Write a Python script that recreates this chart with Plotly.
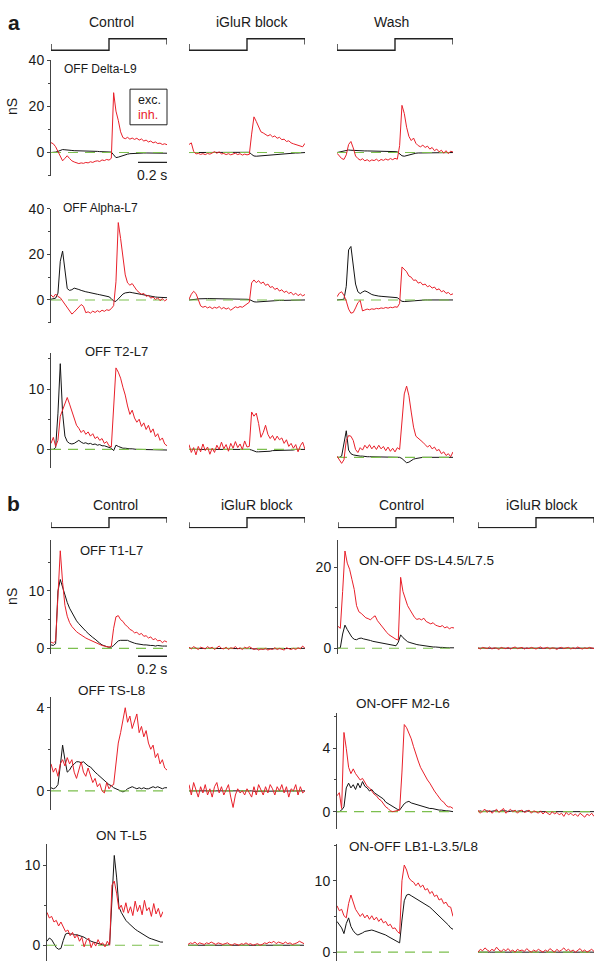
import numpy as np
import plotly.graph_objects as go

W, H = 603, 972
FONT = "Liberation Sans, Arial, Helvetica, sans-serif"
RED = "#e8202a"
BLACK = "#141414"
GREEN = "#7cbf4e"
AXC = "#444444"

# sample times (s) of every trace (1 sample / 16 ms, 0.8 s sweep, light step at 0.4 s)
T = np.round(np.arange(51) * 0.016, 3)

# light stimulus trace (OFF -> ON step)
STIM_T = [0.0, 0.0, 0.4, 0.4, 0.8, 0.8]
STIM_LEVEL = [0.55, 0.0, 0.0, 1.0, 1.0, 0.5]
SCALE_T = [0.6, 0.8]          # 0.2 s scale bar
SCALE_Y = [0.0, 0.0]
ZERO_T = [0.0, 0.8]           # baseline (0 nS)
ZERO_Y = [0.0, 0.0]

# ---------------- panel a ----------------
A1_CTRL_EXC = [0, 0, 0.2, 0.5, 1.0, 1.3, 1.2, 1.0, 0.9, 0.9,
               0.8, 0.8, 0.7, 0.7, 0.7, 0.6, 0.6, 0.6, 0.5, 0.5,
               0.5, 0.4, 0.4, 0.4, 0.3, 0.3, 0.2, -1.0, -2.2, -2.0,
               -1.6, -1.2, -0.9, -0.7, -0.5, -0.4, -0.3, -0.3, -0.2, -0.2,
               -0.2, -0.2, -0.2, -0.2, -0.3, -0.3, -0.3, -0.3, -0.3, -0.3, -0.3]
A1_CTRL_INH = [4.3, 3.8, 2.5, 0.5, -2.0, -3.6, -2.5, -1.4, -2.6, -3.6,
               -4.1, -4.6, -4.8, -4.5, -4.7, -4.3, -4.5, -4.0, -4.3, -3.8,
               -3.6, -3.9, -3.2, -3.5, -3.0, -3.3, -2.5, 26.0, 18.0, 14.0,
               9.0, 6.5, 6.0, 6.6, 5.8, 6.3, 5.7, 6.2, 5.4, 5.9,
               5.0, 5.4, 4.6, 5.0, 4.2, 4.6, 3.9, 4.1, 3.5, 3.8, 3.4]
A1_BLK_EXC = [0, 0, 0.1, 0.2, 0.2, 0.2, 0.2, 0.2, 0.2, 0.2,
              0.2, 0.2, 0.2, 0.2, 0.2, 0.2, 0.2, 0.2, 0.2, 0.2,
              0.2, 0.2, 0.2, 0.2, 0.2, 0.2, 0.1, -0.8, -1.5, -1.6,
              -1.5, -1.4, -1.3, -1.2, -1.1, -1.0, -0.9, -0.8, -0.7, -0.7,
              -0.6, -0.5, -0.5, -0.4, -0.3, -0.3, -0.2, -0.2, -0.1, -0.1, 0]
A1_BLK_INH = [3.5, 4.2, 0.5, -0.6, -0.4, -0.8, -0.5, -0.9, -0.4, -0.7,
              -0.2, 0.4, -0.3, 0.3, -0.6, -0.4, -0.9, -0.5, -1.0, -0.6,
              -0.3, -0.9, -0.5, -1.1, -0.7, -1.0, -0.8, 8.0, 15.5, 13.5,
              11.0, 9.0, 8.5, 8.0, 7.2, 7.8, 6.8, 7.2, 6.2, 6.6,
              5.6, 5.8, 4.8, 5.1, 4.2, 3.8, 3.4, 3.0, 2.7, 2.5, 4.0]
A1_WASH_EXC = [0, 0.2, 0.5, 0.8, 1.0, 1.1, 1.0, 0.9, 0.9, 0.8,
               0.8, 0.8, 0.7, 0.7, 0.7, 0.7, 0.6, 0.6, 0.6, 0.5,
               0.5, 0.5, 0.5, 0.4, 0.4, 0.4, 0.3, -0.5, -1.4, -1.6,
               -1.3, -0.9, -0.6, -0.4, -0.3, -0.2, -0.2, -0.1, -0.1, -0.1,
               0, 0, 0, 0, 0, 0, 0, 0, 0, 0, 0]
A1_WASH_INH = [-0.3, -1.5, -2.6, -3.0, -1.0, 3.5, 4.8, 2.0, -1.5, -2.6,
               -3.3, -2.7, -3.6, -3.1, -3.8, -3.2, -3.5, -2.9, -3.7, -3.0,
               -3.4, -2.8, -3.3, -2.6, -3.1, -2.5, -2.9, 3.0, 20.5, 17.0,
               11.0, 7.0, 5.2, 6.3, 4.0, 3.0, 2.5, 3.2, 2.2, 2.8,
               1.5, 2.2, 0.8, 1.5, 0.3, 1.0, -0.3, 0.8, -0.5, 0.6, 0.2]

A2_CTRL_EXC = [0.3, 0.5, 0.8, 3.0, 17.0, 21.5, 12.0, 5.0, 4.2, 4.5,
               5.2, 5.0, 4.6, 4.2, 3.8, 3.6, 3.4, 3.1, 2.9, 2.7,
               2.5, 2.3, 2.1, 1.9, 1.7, 1.4, 0.6, -0.5, -0.6, 0.6,
               1.8, 2.6, 3.1, 3.4, 3.4, 3.2, 3.0, 2.7, 2.5, 2.2,
               2.0, 1.8, 1.6, 1.5, 1.4, 1.3, 1.2, 1.1, 1.1, 1.0, 1.0]
A2_CTRL_INH = [2.2, 1.2, 2.6, 1.5, 1.0, -0.5, -1.8, -3.0, -4.8, -6.2,
               -5.3, -4.2, -3.3, -2.0, -2.8, -5.6, -5.2, -5.8, -4.9, -5.5,
               -4.7, -5.3, -4.5, -5.0, -4.3, -4.6, -3.8, -2.5, 8.0, 34.0,
               27.0, 18.0, 11.0, 7.5, 6.5, 7.2, 5.5, 4.2, 3.3, 2.5,
               2.9, 1.6, 2.0, 0.8, 1.3, 0.2, 0.9, -0.3, 0.6, -0.4, 0.3]
A2_BLK_EXC = [0, 0, 0.1, 0.3, 0.5, 0.6, 0.6, 0.6, 0.6, 0.6,
              0.6, 0.6, 0.5, 0.5, 0.5, 0.5, 0.5, 0.5, 0.5, 0.4,
              0.4, 0.4, 0.4, 0.4, 0.3, 0.3, 0.2, -0.4, -0.8, -0.9,
              -0.8, -0.7, -0.6, -0.5, -0.5, -0.4, -0.4, -0.3, -0.3, -0.2,
              -0.2, -0.2, -0.1, -0.1, -0.1, 0, 0, 0, 0, 0, 0]
A2_BLK_INH = [0.3, 2.5, 3.8, 2.8, 0.2, -2.6, -3.2, -2.8, -3.5, -3.0,
              -3.8, -3.2, -3.6, -2.9, -3.9, -3.3, -4.0, -3.5, -4.5, -3.7,
              -3.0, -3.4, -2.9, -3.2, -2.4, -1.5, -1.0, 7.5, 8.8, 7.6,
              8.5, 7.2, 7.9, 6.4, 7.0, 5.5, 5.9, 4.6, 5.2, 3.9,
              4.5, 3.3, 3.9, 2.8, 3.4, 2.2, 3.0, 1.9, 2.6, 1.8, 2.4]
A2_WASH_EXC = [0, 0, 0.1, 0.3, 6.0, 22.0, 23.5, 15.0, 7.0, 3.6,
               2.8, 3.5, 4.0, 3.6, 2.9, 2.4, 2.1, 1.8, 1.7, 1.6,
               1.5, 1.4, 1.4, 1.3, 1.3, 1.2, 1.0, 0.2, -0.6, -0.7,
               -0.6, -0.4, -0.3, -0.2, -0.1, 0, 0, 0, 0, 0,
               0, 0, 0, 0, 0, 0, 0, 0, 0, 0, 0]
A2_WASH_INH = [1.4, 3.0, 3.6, 2.0, -0.5, -4.0, -5.8, -5.5, -3.5, -1.2,
               -0.2, -4.8, -4.4, -4.0, -4.3, -3.9, -4.1, -3.7, -3.9, -3.5,
               -3.7, -3.3, -3.6, -3.2, -3.4, -3.0, -3.2, -1.5, 14.5, 13.2,
               12.4, 10.5, 10.0, 8.6, 8.8, 7.4, 7.8, 6.6, 7.0, 5.8,
               6.3, 5.2, 5.7, 4.4, 4.9, 3.6, 4.1, 2.9, 3.3, 2.3, 2.7]

A3_CTRL_EXC = [0, 0, 0.3, 6.0, 14.2, 6.0, 2.2, 1.3, 1.0, 0.9,
               1.0, 1.3, 1.5, 1.2, 1.0, 1.1, 0.9, 1.0, 0.8, 0.9,
               0.7, 0.8, 0.6, 0.6, 0.5, 0.4, 0.2, -0.2, 0.7, 0.5,
               0.3, 0.2, 0.2, 0.1, 0.1, 0.1, 0.0, 0.0, 0.0, 0.0,
               0.0, 0.0, 0.0, 0.0, -0.1, -0.1, -0.1, -0.1, -0.1, -0.1, -0.1]
A3_CTRL_INH = [1.0, 2.0, 0.5, 1.5, 5.5, 6.5, 7.8, 8.6, 7.5, 6.3,
               5.0, 4.0, 3.5, 2.8, 3.2, 2.5, 2.9, 2.2, 2.6, 1.8,
               2.1, 1.5, 1.8, 1.0, 1.3, 0.6, 0.4, 8.0, 13.5, 12.8,
               11.8, 10.3, 9.0, 7.2, 5.8, 6.5, 5.2, 4.5, 5.0, 3.8,
               4.4, 3.3, 4.0, 2.8, 3.4, 2.1, 2.6, 1.5, 1.9, 0.9, 0.6]
A3_BLK_EXC = [0.0, 0.0, 0.0, 0.05, 0.0, 0.0, 0.05, 0.0, 0.0, 0.0,
              0.05, 0.0, 0.0, 0.0, 0.05, 0.0, 0.0, 0.0, 0.0, 0.05,
              0.0, 0.0, 0.0, 0.0, 0.0, 0.0, 0.0, -0.1, -0.3, -0.4,
              -0.4, -0.4, -0.3, -0.3, -0.3, -0.3, -0.2, -0.2, -0.2, -0.2,
              -0.2, -0.1, -0.1, -0.1, -0.1, -0.1, 0.0, 0.0, 0.0, 0.0, 0.0]
A3_BLK_INH = [0.8, -0.5, 0.3, -0.9, 0.5, -0.4, 0.9, -0.2, 0.4, -0.8,
              0.2, -0.5, 0.7, 0.0, 1.2, 0.1, 0.8, -0.3, 1.0, 0.2,
              1.3, 0.3, 0.9, 0.0, 1.4, 0.4, 0.5, 6.2, 5.5, 6.0,
              4.3, 2.0, 2.8, 4.0, 2.5, 1.8, 2.3, 1.5, 2.2, 1.6,
              1.9, 1.0, 1.6, 0.5, 1.0, 0.2, 0.8, -0.4, 0.6, 1.2, 0.0]
A3_WASH_EXC = [0, 0, 0.2, 2.5, 4.4, 1.2, 0.6, 0.4, 0.3, 0.3,
               0.2, 0.2, 0.1, 0.1, 0.1, 0.1, 0.1, 0.1, 0.0, 0.0,
               0.0, 0.0, 0.0, 0.0, 0.0, 0.0, 0.0, 0.0, -0.2, -0.6,
               -0.9, -0.8, -0.5, -0.3, -0.2, -0.1, 0.0, 0.0, 0.0, 0.0,
               0.0, 0.0, 0.0, 0.0, 0.0, 0.0, 0.0, 0.0, 0.0, 0.0, 0.0]
A3_WASH_INH = [0.2, -0.5, -1.0, -0.4, 2.8, 3.6, 3.5, 2.8, 1.3, 0.8,
               1.6, 1.2, 2.0, 1.5, 2.1, 1.4, 1.9, 1.3, 2.0, 1.4,
               1.8, 1.1, 1.7, 1.0, 1.5, 0.9, 1.6, 1.3, 6.0, 10.5,
               11.8, 10.2, 7.5, 5.0, 3.5, 3.2, 2.8, 2.5, 2.1, 1.7,
               2.0, 1.4, 1.7, 1.1, 1.3, 0.6, 0.9, 0.3, 0.6, 0.1, 0.9]

# ---------------- panel b ----------------
B1L_CTRL_EXC = [0.6, 0.5, 0.8, 10.0, 12.0, 10.5, 9.2, 8.0, 7.0, 6.2,
                5.5, 4.8, 4.3, 3.8, 3.3, 3.0, 2.6, 2.2, 1.9, 1.6,
                1.2, 0.9, 0.6, 0.4, 0.3, 0.2, 0.2, 0.5, 1.0, 1.3,
                1.4, 1.4, 1.3, 1.4, 1.2, 1.0, 0.9, 0.8, 0.7, 0.7,
                0.6, 0.6, 0.5, 0.5, 0.5, 0.4, 0.5, 0.4, 0.4, 0.4, 0.4]
B1L_CTRL_INH = [1.1, 0.9, 1.3, 9.0, 17.0, 11.5, 7.5, 5.6, 4.5, 3.8,
                3.3, 2.9, 2.6, 2.3, 2.1, 1.8, 1.6, 1.4, 1.2, 1.0,
                0.8, 0.6, 0.5, 0.4, 0.3, 0.2, 0.4, 3.5, 5.5, 5.7,
                5.0, 4.7, 4.1, 3.8, 3.3, 3.1, 2.7, 2.8, 2.4, 2.6,
                2.1, 2.2, 1.8, 2.0, 1.5, 1.7, 1.3, 1.4, 1.0, 1.3, 1.1]
B1L_BLK_EXC = [0.0, 0.0, 0.05, 0.0, 0.0, 0.05, 0.0, 0.0, 0.0, 0.05,
               0.0, 0.0, 0.0, 0.0, 0.05, 0.0, 0.0, 0.0, 0.0, 0.0,
               0.05, 0.0, 0.0, 0.0, 0.0, 0.0, 0.0, -0.05, -0.1, -0.1,
               -0.1, -0.1, -0.1, -0.1, -0.05, -0.05, -0.05, -0.05, -0.05, 0.0,
               0.0, 0.0, 0.0, 0.0, 0.0, 0.0, 0.0, 0.0, 0.0, 0.0, 0.0]
B1L_BLK_INH = [0.2, -0.1, 0.3, 0.0, -0.2, 0.2, 0.1, -0.1, 0.3, 0.0,
               0.2, -0.2, 0.1, 0.4, 0.0, -0.1, 0.2, -0.2, 0.1, 0.0,
               0.3, -0.1, 0.1, -0.2, 0.2, 0.0, 0.3, 0.1, -0.2, 0.0,
               -0.3, -0.1, -0.2, 0.0, -0.3, -0.1, -0.2, 0.1, -0.2, 0.0,
               -0.1, -0.3, 0.1, -0.1, -0.2, 0.0, -0.2, 0.1, -0.1, 0.4, 0.0]
B1R_CTRL_EXC = [0.0, 0.1, 3.5, 5.7, 4.6, 3.6, 2.7, 2.2, 2.1, 2.4,
                2.5, 2.3, 2.2, 2.0, 1.9, 1.7, 1.6, 1.5, 1.4, 1.3,
                1.2, 1.0, 0.9, 0.8, 0.7, 0.6, 1.5, 3.3, 2.6, 2.0,
                1.6, 1.4, 1.2, 1.0, 0.9, 0.8, 0.7, 0.6, 0.5, 0.4,
                0.4, 0.3, 0.3, 0.2, 0.2, 0.2, 0.1, 0.1, 0.1, 0.1, 0.1]
B1R_CTRL_INH = [5.4, 4.9, 14.0, 24.0, 21.0, 19.5, 17.0, 14.5, 10.5, 9.0,
                8.6, 8.0, 7.5, 7.3, 7.0, 7.6, 8.0, 6.8, 6.0, 5.2,
                4.6, 3.9, 3.3, 2.9, 2.5, 2.2, 2.0, 17.5, 14.0, 12.0,
                10.5, 9.5, 8.4, 7.6, 7.1, 7.3, 7.0, 7.4, 6.6, 6.3,
                6.0, 6.3, 5.7, 5.5, 5.3, 5.6, 5.0, 5.3, 4.8, 5.1, 5.0]
B1R_BLK_EXC = [0.0, 0.0, 0.0, 0.05, 0.0, 0.0, 0.0, 0.0, 0.05, 0.0,
               0.0, 0.0, 0.0, 0.0, 0.0, 0.05, 0.0, 0.0, 0.0, 0.0,
               0.0, 0.0, 0.0, 0.05, 0.0, 0.0, 0.0, 0.0, -0.05, -0.05,
               -0.05, -0.05, -0.05, 0.0, 0.0, 0.0, 0.0, 0.0, 0.0, 0.0,
               0.0, 0.0, 0.0, 0.0, 0.0, 0.0, 0.0, 0.0, 0.0, 0.0, 0.0]
B1R_BLK_INH = [0.1, -0.2, 0.2, 0.0, -0.1, 0.3, -0.2, 0.1, 0.0, -0.3,
               0.2, 0.0, -0.1, 0.2, -0.2, 0.1, 0.3, -0.1, 0.0, 0.2,
               -0.2, 0.1, -0.1, 0.2, 0.0, -0.2, 0.1, 0.3, -0.1, 0.0,
               0.2, -0.2, 0.1, 0.0, -0.3, 0.1, 0.2, -0.1, 0.0, 0.2,
               -0.2, 0.1, -0.1, 0.3, 0.0, -0.2, 0.1, -0.1, 0.2, 0.0, -0.1]

B2L_CTRL_EXC = [0.15, 0.1, 0.15, 0.3, 1.2, 2.2, 1.5, 0.9, 1.0, 1.2,
                1.3, 1.4, 1.4, 1.35, 1.4, 1.3, 1.2, 1.15, 1.0, 0.9,
                0.8, 0.7, 0.6, 0.5, 0.4, 0.3, 0.25, 0.15, 0.1, 0.05,
                0.0, -0.05, 0.0, 0.1, 0.15, 0.2, 0.15, 0.1, 0.15, 0.1,
                0.15, 0.1, 0.1, 0.15, 0.2, 0.15, 0.2, 0.15, 0.1, 0.15, 0.15]
B2L_CTRL_INH = [1.3, 0.9, 1.1, 0.7, 1.3, 1.5, 1.2, 1.6, 1.3, 1.5,
                0.9, 0.6, 1.0, 1.4, 0.9, 0.7, 1.1, 0.8, 0.4, 0.6,
                0.2, 0.35, 0.0, -0.1, 0.4, 0.1, 0.25, 0.3, 1.4, 2.3,
                2.8, 3.5, 4.0, 3.3, 3.6, 3.0, 3.4, 3.7, 2.8, 3.1,
                2.6, 2.9, 2.3, 2.0, 2.2, 1.6, 1.8, 1.3, 1.5, 1.1, 1.0]
B2L_BLK_EXC = [0.0, 0.0, 0.02, 0.0, 0.0, 0.0, 0.02, 0.0, 0.0, 0.0,
               0.0, 0.02, 0.0, 0.0, 0.0, 0.0, 0.02, 0.0, 0.0, 0.0,
               0.0, 0.0, 0.02, 0.0, 0.0, 0.0, 0.0, 0.0, -0.02, -0.02,
               -0.02, -0.02, 0.0, 0.0, 0.0, 0.0, 0.0, 0.0, 0.0, 0.0,
               0.0, 0.0, 0.0, 0.0, 0.0, 0.0, 0.0, 0.0, 0.0, 0.0, 0.0]
B2L_BLK_INH = [0.3, -0.2, 0.4, 0.0, -0.3, 0.2, -0.1, 0.3, -0.2, 0.1,
               -0.3, 0.2, 0.4, -0.1, 0.2, -0.2, 0.1, 0.3, -0.3, -0.8,
               -0.2, 0.1, -0.1, 0.0, -0.2, 0.1, -0.1, -0.3, 0.2, -0.2,
               0.3, 0.0, -0.2, 0.2, -0.1, 0.3, 0.1, -0.2, 0.2, 0.0,
               0.3, -0.1, 0.2, -0.3, 0.1, 0.0, 0.3, -0.2, 0.2, -0.1, 0.0]
B2R_CTRL_EXC = [0.0, 0.0, 0.1, 0.3, 1.5, 1.8, 1.5, 1.7, 1.4, 1.8,
                1.5, 1.9, 1.6, 1.5, 1.3, 1.4, 1.2, 1.1, 1.0, 0.9,
                0.8, 0.6, 0.5, 0.4, 0.3, 0.2, 0.15, 0.1, 0.3, 0.5,
                0.6, 0.65, 0.55, 0.5, 0.45, 0.4, 0.35, 0.3, 0.3, 0.25,
                0.2, 0.2, 0.15, 0.1, 0.1, 0.1, 0.05, 0.05, 0.05, 0.0, 0.0]
B2R_CTRL_INH = [1.0, 1.2, 0.2, 5.0, 4.0, 2.8, 2.4, 2.7, 2.4, 2.2,
                2.0, 2.1, 1.8, 1.6, 1.5, 1.3, 1.1, 1.0, 0.8, 0.7,
                0.5, 0.3, 0.2, 0.05, 0.0, 0.05, 0.1, 0.1, 2.5, 5.5,
                5.3, 5.0, 4.6, 4.1, 3.6, 3.2, 2.8, 2.5, 2.2, 2.0,
                1.8, 1.5, 1.3, 1.1, 0.9, 0.7, 0.6, 0.4, 0.3, 0.3, 0.2]
B2R_BLK_EXC = [0.0, 0.05, 0.0, 0.05, 0.05, 0.0, 0.05, 0.05, 0.05, 0.0,
               0.05, 0.05, 0.05, 0.0, 0.05, 0.05, 0.0, 0.05, 0.05, 0.0,
               0.0, 0.05, 0.0, 0.0, 0.0, 0.0, 0.0, 0.0, 0.0, 0.0,
               0.0, 0.0, 0.0, 0.0, 0.0, 0.0, 0.0, 0.0, 0.0, 0.0,
               0.0, 0.0, 0.0, 0.0, 0.0, 0.0, 0.0, 0.0, 0.0, 0.0, 0.0]
B2R_BLK_INH = [0.1, -0.1, 0.05, 0.15, -0.05, 0.1, -0.1, 0.0, 0.15, -0.05,
               0.1, 0.2, -0.1, 0.05, 0.15, 0.0, 0.1, -0.1, 0.05, 0.1,
               -0.05, 0.0, 0.1, -0.1, 0.05, 0.0, -0.1, 0.05, -0.15, 0.0,
               -0.1, -0.2, 0.0, -0.15, -0.05, -0.2, -0.1, -0.3, -0.05, -0.2,
               -0.1, -0.25, -0.15, -0.3, -0.1, -0.2, -0.35, -0.15, -0.25, -0.1, -0.3]

B3L_CTRL_EXC = [0.5, 0.9, 0.7, 0.2, -0.3, -0.5, -0.4, 0.6, 1.4, 1.5,
                1.4, 1.4, 1.3, 1.3, 1.2, 1.1, 1.0, 0.8, 0.6, 0.5,
                0.4, 0.3, 0.2, 0.1, 0.05, 0.0, 0.0, 0.1, 5.0, 11.2,
                8.5, 4.8, 4.1, 3.6, 3.1, 2.8, 2.5, 2.2, 2.0, 1.8,
                1.6, 1.4, 1.2, 1.1, 0.9, 0.8, 0.7, 0.6, 0.5, 0.4, 0.4]
B3L_CTRL_INH = [4.1, 3.4, 3.6, 2.9, 3.1, 2.4, 2.9, 2.2, 1.7, 1.9,
                1.2, 1.6, 0.9, 1.3, 0.5, 1.0, -0.2, 0.6, 0.9, -0.3,
                0.4, -0.1, 0.7, 0.1, 0.3, -0.2, 0.5, 0.0, 7.5, 8.0,
                6.5, 4.5, 5.0, 4.1, 5.3, 4.0, 4.8, 3.7, 5.5, 4.2,
                5.0, 3.8, 5.6, 4.3, 4.7, 3.6, 5.2, 3.9, 4.6, 3.5, 4.2]
B3L_BLK_EXC = [0.0, 0.0, 0.05, 0.0, 0.0, 0.0, 0.05, 0.0, 0.0, 0.0,
               0.05, 0.0, 0.0, 0.0, 0.0, 0.05, 0.0, 0.0, 0.0, 0.0,
               0.0, 0.05, 0.0, 0.0, 0.0, 0.0, 0.0, 0.0, 0.0, 0.0,
               0.0, 0.0, 0.0, 0.0, 0.0, 0.0, 0.0, 0.0, 0.0, 0.0,
               0.0, 0.0, 0.0, 0.0, 0.0, 0.0, 0.0, 0.0, 0.0, 0.0, 0.0]
B3L_BLK_INH = [0.1, 0.3, 0.2, 0.4, 0.1, 0.3, 0.2, 0.1, 0.3, 0.2,
               0.4, 0.2, 0.1, 0.3, 0.2, 0.1, 0.2, 0.3, 0.1, 0.0,
               0.2, 0.1, 0.0, 0.2, 0.1, 0.3, 0.1, 0.2, 0.0, 0.1,
               0.2, 0.0, 0.1, 0.3, 0.2, 0.4, 0.3, 0.5, 0.2, 0.4,
               0.3, 0.2, 0.4, 0.2, 0.3, 0.1, 0.2, 0.3, 0.5, 0.4, 0.2]
B3R_CTRL_EXC = [4.3, 3.8, 3.4, 2.6, 4.0, 4.8, 3.6, 3.0, 2.6, 2.4,
                2.5, 2.7, 2.9, 3.0, 3.1, 3.1, 3.0, 2.9, 2.8, 2.6,
                2.5, 2.4, 2.2, 2.0, 1.8, 1.6, 1.4, 1.3, 4.5, 7.2,
                8.0, 8.1, 7.9, 7.7, 7.6, 7.4, 7.2, 7.0, 6.8, 6.6,
                6.3, 6.0, 5.7, 5.4, 5.1, 4.8, 4.4, 4.1, 3.8, 3.4, 3.2]
B3R_CTRL_INH = [6.5, 5.8, 6.0, 5.1, 4.8, 6.8, 8.0, 7.1, 6.0, 5.5,
                5.0, 5.4, 4.8, 5.2, 4.6, 5.1, 4.5, 4.9, 4.3, 4.7,
                4.1, 4.3, 3.7, 3.9, 3.3, 3.4, 2.9, 2.6, 10.0, 12.2,
                11.5, 10.4, 10.0, 9.8, 9.3, 9.7, 9.1, 9.4, 8.7, 8.9,
                8.2, 8.5, 7.8, 8.0, 7.3, 7.5, 6.8, 7.0, 6.4, 6.3, 5.0]
B3R_BLK_EXC = [0.0, 0.05, 0.0, 0.0, 0.05, 0.0, 0.0, 0.0, 0.05, 0.0,
               0.0, 0.0, 0.05, 0.0, 0.0, 0.0, 0.0, 0.05, 0.0, 0.0,
               0.0, 0.0, 0.0, 0.05, 0.0, 0.0, 0.0, 0.0, 0.0, 0.0,
               0.0, 0.0, 0.0, 0.0, 0.0, 0.0, 0.0, 0.0, 0.0, 0.0,
               0.0, 0.0, 0.0, 0.0, 0.0, 0.0, 0.0, 0.0, 0.0, 0.0, 0.0]
B3R_BLK_INH = [0.0, 0.4, 0.2, 0.6, 0.3, 0.1, 0.4, 0.2, 0.7, 0.3,
               0.1, 0.4, 0.2, 0.5, 0.1, 0.3, 0.0, 0.4, 0.2, 0.3,
               0.1, 0.5, 0.2, 0.0, 0.3, 0.1, 0.4, 0.2, 0.0, 0.3,
               0.1, 0.5, 0.2, 0.0, 0.4, 0.1, 0.3, 0.6, 0.2, 0.4,
               0.1, 0.3, 0.0, 0.2, 0.5, 0.1, 0.3, 0.0, 0.2, 0.4, 0.1]

# tick labels per row
A_TICKS = [0, 20, 40]
A3_TICKS = [0, 10]
B1L_TICKS = [0, 10]
B1R_TICKS = [0, 20]
B2_TICKS = [0, 4]
B3_TICKS = [0, 10]

_bad = [k for k, v in list(globals().items())
        if k[:1] in "AB" and k.endswith(("_EXC", "_INH")) and len(v) != len(T)]
if _bad:
    raise SystemExit("bad lengths: " + ", ".join(f"{k}={len(globals()[k])}" for k in _bad))

# ---------------- figure building ----------------
layout = dict(width=W, height=H, margin=dict(l=0, r=0, t=0, b=0),
              paper_bgcolor="white", plot_bgcolor="rgba(0,0,0,0)",
              showlegend=False, font=dict(family=FONT, size=14, color="#1a1a1a"))
traces = []
annotations = []
shapes = []
_n = [0]


def px(x):
    return x / W


def py(y):
    return 1 - y / H


def new_axes(x0, ytop, ybot, yrange, xwidth=116.0):
    _n[0] += 1
    n = _n[0]
    s = "" if n == 1 else str(n)
    layout["xaxis" + s] = dict(domain=[px(x0), px(x0 + xwidth)], range=[0, 0.8],
                               visible=False, anchor="y" + s, fixedrange=True)
    layout["yaxis" + s] = dict(domain=[py(ybot), py(ytop)], range=list(yrange),
                               visible=False, anchor="x" + s, fixedrange=True)
    return "x" + s, "y" + s, "yaxis" + s


def panel(x0, ytop, ybot, yrange, exc, inh, ticks=None, xwidth=116.0):
    xr, yr, yname = new_axes(x0, ytop, ybot, yrange, xwidth)
    if ticks is not None:
        step = ticks[1] - ticks[0]
        minor = [v for v in np.arange(ticks[0] - step, ticks[-1] + step, step / 2)
                 if yrange[0] <= v <= yrange[1] and v not in ticks]
        layout[yname].update(visible=True, showline=True, linecolor=AXC, linewidth=1,
                             ticks="outside", ticklen=3, tickwidth=1, tickcolor=AXC,
                             tickvals=ticks, ticktext=[str(t) for t in ticks],
                             showgrid=False, zeroline=False,
                             tickfont=dict(size=14, color="#1a1a1a", family=FONT),
                             minor=dict(tickvals=minor, ticks="outside", ticklen=2,
                                        tickcolor=AXC, showgrid=False))
    traces.append(go.Scatter(x=T, y=exc, mode="lines", line=dict(color=BLACK, width=1),
                             xaxis=xr, yaxis=yr, hoverinfo="skip"))
    traces.append(go.Scatter(x=ZERO_T, y=ZERO_Y, mode="lines",
                             line=dict(color=GREEN, width=1.1, dash="10px,7px"),
                             xaxis=xr, yaxis=yr, hoverinfo="skip"))
    traces.append(go.Scatter(x=T, y=inh, mode="lines", line=dict(color=RED, width=1),
                             xaxis=xr, yaxis=yr, hoverinfo="skip"))


def stim(x0, y_low, unit):
    xr, yr, _ = new_axes(x0, y_low - 1.1 * unit, y_low + 0.1 * unit, (-0.1, 1.1))
    traces.append(go.Scatter(x=STIM_T, y=STIM_LEVEL, mode="lines",
                             line=dict(color="#222222", width=1.4),
                             xaxis=xr, yaxis=yr, hoverinfo="skip"))


def scalebar(x0, y):
    xr, yr, _ = new_axes(x0, y - 4, y + 4, (-1, 1))
    traces.append(go.Scatter(x=SCALE_T, y=SCALE_Y, mode="lines",
                             line=dict(color="#222222", width=1.4),
                             xaxis=xr, yaxis=yr, hoverinfo="skip"))
    text(152, y + 13, "0.2 s")


def text(x, y, s, size=14, anchor="center", color="#1a1a1a", angle=0):
    annotations.append(dict(x=px(x), y=py(y), xref="paper", yref="paper", text=s,
                            showarrow=False, xanchor=anchor, yanchor="middle",
                            textangle=angle,
                            font=dict(size=size, color=color, family=FONT)))


# ----- panel a -----
A_COLS = [51, 189, 337]
A_ROWS = [(53, 169.3, (-10, 40)), (203, 318, (-10, 40)), (348.4, 464.3, (-3, 16))]
A_DATA = [[(A1_CTRL_EXC, A1_CTRL_INH), (A1_BLK_EXC, A1_BLK_INH), (A1_WASH_EXC, A1_WASH_INH)],
          [(A2_CTRL_EXC, A2_CTRL_INH), (A2_BLK_EXC, A2_BLK_INH), (A2_WASH_EXC, A2_WASH_INH)],
          [(A3_CTRL_EXC, A3_CTRL_INH), (A3_BLK_EXC, A3_BLK_INH), (A3_WASH_EXC, A3_WASH_INH)]]
A_ROW_TICKS = [A_TICKS, A_TICKS, A3_TICKS]
for r, (yt, yb, yrg) in enumerate(A_ROWS):
    for c, x0 in enumerate(A_COLS):
        shift = 8 if (r == 2 and c == 2) else 0
        exc, inh = A_DATA[r][c]
        panel(x0, yt + shift, yb + shift, yrg, exc, inh, A_ROW_TICKS[r] if c == 0 else None)
for x0 in A_COLS:
    stim(x0, 42.7, 11.7)
scalebar(51, 156)

# ----- panel b -----
for x0 in [51, 189, 338, 478]:
    stim(x0, 525, 10)
# row 1
panel(51, 538, 652.8, (-1, 18.8), B1L_CTRL_EXC, B1L_CTRL_INH, B1L_TICKS)
panel(189, 538, 652.8, (-1, 18.8), B1L_BLK_EXC, B1L_BLK_INH)
panel(338, 538, 653, (-1.5, 26.6), B1R_CTRL_EXC, B1R_CTRL_INH, B1R_TICKS)
panel(478, 538, 653, (-1.5, 26.6), B1R_BLK_EXC, B1R_BLK_INH)
# row 2
panel(51, 696.5, 809.9, (-0.9, 4.5), B2L_CTRL_EXC, B2L_CTRL_INH, B2_TICKS)
panel(189, 696.5, 809.9, (-0.9, 4.5), B2L_BLK_EXC, B2L_BLK_INH)
panel(337, 712.8, 829.6, (-1.1, 6.2), B2R_CTRL_EXC, B2R_CTRL_INH, B2_TICKS)
panel(478, 712.8, 829.6, (-1.1, 6.2), B2R_BLK_EXC, B2R_BLK_INH)
# row 3
panel(47, 844.9, 963.2, (-2, 12.6), B3L_CTRL_EXC, B3L_CTRL_INH, B3_TICKS)
panel(188, 844.9, 963.2, (-2, 12.6), B3L_BLK_EXC, B3L_BLK_INH)
panel(337, 845, 963, (-1.25, 15.1), B3R_CTRL_EXC, B3R_CTRL_INH, B3_TICKS)
panel(478, 845, 963, (-1.25, 15.1), B3R_BLK_EXC, B3R_BLK_INH)
scalebar(51, 655)

# ----- text -----
text(14, 15, "<b>a</b>", size=21)
text(14, 501, "<b>b</b>", size=21)
text(111, 14, "Control")
text(252, 14, "iGluR block")
text(391, 14, "Wash")
text(115, 502, "Control")
text(257, 502, "iGluR block")
text(401, 502, "Control")
text(542, 502, "iGluR block")
text(12, 100, "nS", angle=-90)
text(12, 595, "nS", angle=-90)
text(101, 62, "OFF Delta-L9", size=12)
text(100, 202, "OFF Alpha-L7", size=12)
text(116, 347, "OFF T2-L7", size=13)
text(111, 548, "OFF T1-L7", size=13)
text(426, 558, "ON-OFF DS-L4.5/L7.5", size=13.5)
text(111, 690, "OFF TS-L8", size=13.5)
text(403, 703, "ON-OFF M2-L6", size=13.5)
text(121, 836, "ON T-L5", size=13.5)
text(413, 847, "ON-OFF LB1-L3.5/L8", size=13.5)
# legend box
shapes.append(dict(type="rect", xref="paper", yref="paper", x0=px(130), x1=px(167),
                   y0=py(118), y1=py(82), line=dict(color="#222222", width=1)))
text(136, 92.5, "exc.", size=12.5, anchor="left")
text(136, 108, "inh.", size=12.5, anchor="left", color=RED)

layout["annotations"] = annotations
layout["shapes"] = shapes
fig = go.Figure(data=traces, layout=layout)
fig.write_html(
    "out.html",
    config={"displayModeBar": False, "staticPlot": True},
    post_script=(
        "document.documentElement.style.margin='0';"
        "document.documentElement.style.overflow='hidden';"
        "document.body.style.margin='0';"
        "document.body.style.overflow='hidden';"
        "var g=document.querySelector('.plotly-graph-div');"
        "if(g){g.style.position='fixed';g.style.left='0px';g.style.top='0px';}"
    ),
)
